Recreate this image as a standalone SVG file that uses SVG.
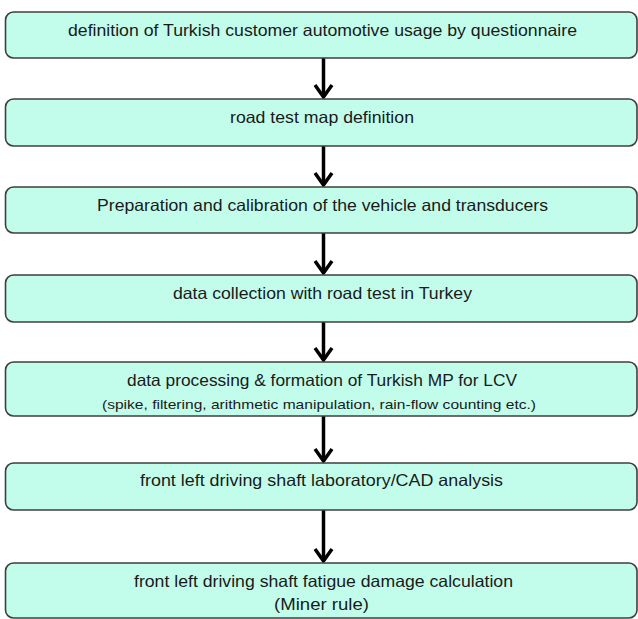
<svg xmlns="http://www.w3.org/2000/svg" width="638" height="619" viewBox="0 0 638 619">
<style>
.box{fill:#c2fdec;stroke:#3f3f3f;stroke-width:1.6}
.t{font-family:"Liberation Sans",Arial,sans-serif;font-size:16.5px;fill:#1a1a1a}
.s{font-size:13px}
.c{stroke:#000;stroke-width:3.5;fill:none}
</style>
<rect width="638" height="619" fill="#fff"/>
<g id="connectors">
<path class="c" d="M323.5 58 V97"/>
<path class="c" d="M323.5 146 V185"/>
<path class="c" d="M323.5 233 V273"/>
<path class="c" d="M323.5 322 V360"/>
<path class="c" d="M323.5 416 V461"/>
<path class="c" d="M323.5 510 V561"/>
<g stroke="#000" stroke-width="3.5" fill="none">
<path d="M315 85 L323.5 97 L332 85"/>
<path d="M315 173 L323.5 185 L332 173"/>
<path d="M315 261 L323.5 273 L332 261"/>
<path d="M315 348 L323.5 360 L332 348"/>
<path d="M315 449 L323.5 461 L332 449"/>
<path d="M315 549 L323.5 561 L332 549"/>
</g>
</g>
<g id="n1"><rect class="box" x="5.5" y="12" width="631.5" height="46" rx="8"/><text class="t" x="68" y="35.5" textLength="509" lengthAdjust="spacingAndGlyphs">definition of Turkish customer automotive usage by questionnaire</text></g>
<g id="n2"><rect class="box" x="5.5" y="99" width="631.5" height="47" rx="8"/><text class="t" x="230" y="122.5" textLength="184" lengthAdjust="spacingAndGlyphs">road test map definition</text></g>
<g id="n3"><rect class="box" x="5.5" y="187" width="631.5" height="46" rx="8"/><text class="t" x="97" y="210.5" textLength="451" lengthAdjust="spacingAndGlyphs">Preparation and calibration of the vehicle and transducers</text></g>
<g id="n4"><rect class="box" x="5.5" y="275" width="631.5" height="47" rx="8"/><text class="t" x="173" y="298.5" textLength="299" lengthAdjust="spacingAndGlyphs">data collection with road test in Turkey</text></g>
<g id="n5"><rect class="box" x="5.5" y="362" width="631.5" height="54" rx="8"/><text class="t" x="127" y="385.5" textLength="390" lengthAdjust="spacingAndGlyphs">data processing &amp; formation of Turkish MP for LCV</text><text class="t s" x="102" y="408.5" textLength="434" lengthAdjust="spacingAndGlyphs">(spike, filtering, arithmetic manipulation, rain-flow counting etc.)</text></g>
<g id="n6"><rect class="box" x="5.5" y="463" width="631.5" height="47" rx="8"/><text class="t" x="140" y="486" textLength="363" lengthAdjust="spacingAndGlyphs">front left driving shaft laboratory/CAD analysis</text></g>
<g id="n7"><rect class="box" x="5.5" y="563" width="631.5" height="55" rx="8"/><text class="t" x="134" y="587" textLength="379" lengthAdjust="spacingAndGlyphs">front left driving shaft fatigue damage calculation</text><text class="t" x="274" y="609.5" textLength="95" lengthAdjust="spacingAndGlyphs">(Miner rule)</text></g>
</svg>
